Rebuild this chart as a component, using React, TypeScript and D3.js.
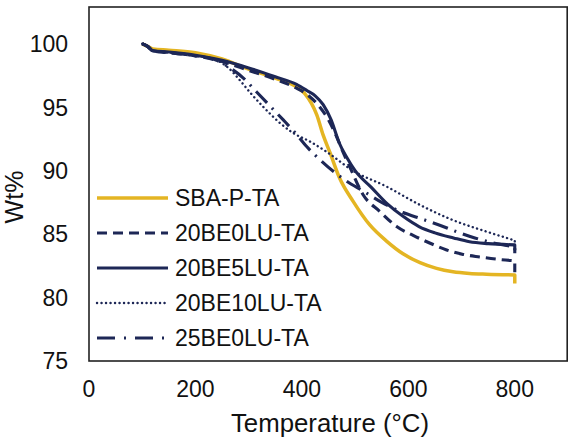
import React from "react";
import * as d3 from "d3";

// ---- data (Temperature °C, Wt%) ----
const sbaT = [100, 110, 120, 150, 200, 250, 300, 350, 390, 405, 418, 428, 440, 453, 471, 496, 528, 559, 590, 622, 653, 684, 715, 747, 800];
const sbaW = [100, 99.8, 99.6, 99.5, 99.3, 98.8, 98.0, 97.3, 96.6, 96.1, 95.3, 94.4, 92.8, 91.4, 89.4, 87.6, 85.7, 84.45, 83.45, 82.75, 82.3, 82.03, 81.9, 81.84, 81.78];

const be0T = [100, 110, 120, 150, 200, 250, 300, 350, 390, 410, 430, 450, 465, 480, 490, 515, 546, 578, 609, 640, 672, 703, 734, 772, 800];
const be0W = [100, 99.8, 99.45, 99.3, 99.05, 98.6, 97.9, 97.2, 96.5, 96.0, 95.2, 94.0, 92.7, 91.2, 90.3, 88.1, 86.8, 85.6, 84.9, 84.3, 83.75, 83.4, 83.2, 83.0, 82.9];

const be5T = [100, 110, 120, 150, 200, 250, 300, 350, 390, 410, 425, 440, 455, 470, 485, 500, 530, 560, 590, 620, 650, 685, 715, 750, 800];
const be5W = [100, 99.8, 99.45, 99.35, 99.1, 98.7, 98.1, 97.4, 96.8, 96.3, 95.9, 95.2, 94.0, 92.2, 91.0, 90.0, 88.7, 87.4, 86.4, 85.6, 85.1, 84.7, 84.4, 84.25, 84.15];

const be10T = [100, 110, 120, 150, 200, 240, 262, 284, 304, 327, 359, 384, 415, 446, 496, 559, 622, 684, 747, 800];
const be10W = [100, 99.8, 99.45, 99.3, 99.05, 98.7, 98.1, 97.1, 96.1, 95.05, 93.75, 92.96, 92.3, 91.5, 90.0, 88.75, 87.3, 86.1, 85.2, 84.5];

const be25T = [100, 110, 120, 150, 200, 240, 265, 290, 315, 340, 365, 387, 409, 437, 462, 485, 515, 550, 590, 625, 659, 690, 725, 760, 790, 800];
const be25W = [100, 99.8, 99.45, 99.3, 99.05, 98.7, 98.1, 97.3, 96.2, 95.1, 94.0, 93.0, 91.9, 90.75, 89.85, 89.15, 88.4, 87.5, 86.7, 86.2, 85.7, 85.2, 84.7, 84.3, 84.07, 84.0];

// final vertical drop value at 800 °C for each series
const endW = [81.1, 82.0, 83.5, 84.0, 83.6];

const seriesNames = ["SBA-P-TA", "20BE0LU-TA", "20BE5LU-TA", "20BE10LU-TA", "25BE0LU-TA"];
const xTicks = [0, 200, 400, 600, 800];
const yTicks = [75, 80, 85, 90, 95, 100];

const GOLD = "#E4B523";
const NAVY = "#1D2756";

const styles = [
  { color: GOLD, width: 3.5, dash: "", cap: "butt" },
  { color: NAVY, width: 3.1, dash: "10,6", cap: "butt" },
  { color: NAVY, width: 3.1, dash: "", cap: "butt" },
  { color: NAVY, width: 2.4, dash: "0.1,4.4", cap: "round" },
  { color: NAVY, width: 3.1, dash: "16,7,2,7", cap: "butt" },
];
const legendDash = ["", "10,6", "", "0.1,4.4", "18,9,2,9"];

export default function App() {
  const W = 569, H = 441;
  const x = d3.scaleLinear().domain([0, 900]).range([89, 568]);
  const y = d3.scaleLinear().domain([75, 102.9]).range([361, 7]);
  const font = "'Liberation Sans', Arial, Helvetica, sans-serif";

  const allT = [sbaT, be0T, be5T, be10T, be25T];
  const allW = [sbaW, be0W, be5W, be10W, be25W];

  const line = d3
    .line<[number, number]>()
    .x((d) => x(d[0]))
    .y((d) => y(d[1]))
    .curve(d3.curveMonotoneX);

  const paths = allT.map((ts, i) => {
    const pts: [number, number][] = ts.map((t, j) => [t, allW[i][j]]);
    const last = ts[ts.length - 1];
    return (line(pts) || "") + `L${x(last)},${y(endW[i])}`;
  });

  const legX0 = 97, legX1 = 168, legTextX = 175, legY0 = 198, legDy = 35;

  return (
    <svg
      width={W}
      height={H}
      style={{ position: "absolute", left: 0, top: 0, background: "#fff" }}
      fontFamily={font}
    >
      <rect x={0} y={0} width={W} height={H} fill="#fff" />
      {/* series */}
      {paths.map((p, i) => (
        <path
          key={i}
          d={p}
          fill="none"
          stroke={styles[i].color}
          strokeWidth={styles[i].width}
          strokeDasharray={styles[i].dash || undefined}
          strokeLinecap={styles[i].cap as any}
          strokeLinejoin="round"
        />
      ))}
      {/* frame */}
      <rect
        x={x(0)}
        y={y(102.9)}
        width={x(900) - x(0) - 0.8}
        height={y(75) - y(102.9)}
        fill="none"
        stroke="#222"
        strokeWidth={1.6}
      />
      {/* y ticks */}
      {yTicks.map((t) => (
        <text key={t} x={68} y={y(t)} dy="0.36em" textAnchor="end" fontSize={23} fill="#111">
          {t}
        </text>
      ))}
      {/* x ticks */}
      {xTicks.map((t) => (
        <text key={t} x={x(t)} y={397} textAnchor="middle" fontSize={23} fill="#111">
          {t}
        </text>
      ))}
      {/* axis titles */}
      <text x={330} y={432} textAnchor="middle" fontSize={25.8} fill="#111">
        Temperature (°C)
      </text>
      <text
        transform={`translate(23,197) rotate(-90)`}
        textAnchor="middle"
        fontSize={25}
        fill="#111"
      >
        Wt%
      </text>
      {/* legend */}
      {seriesNames.map((n, i) => (
        <g key={n}>
          <line
            x1={legX0}
            x2={legX1}
            y1={legY0 + i * legDy}
            y2={legY0 + i * legDy}
            stroke={styles[i].color}
            strokeWidth={styles[i].width}
            strokeDasharray={legendDash[i] || undefined}
            strokeLinecap={styles[i].cap as any}
          />
          <text x={legTextX} y={legY0 + i * legDy} dy="0.36em" fontSize={23} fill="#111">
            {n}
          </text>
        </g>
      ))}
    </svg>
  );
}
